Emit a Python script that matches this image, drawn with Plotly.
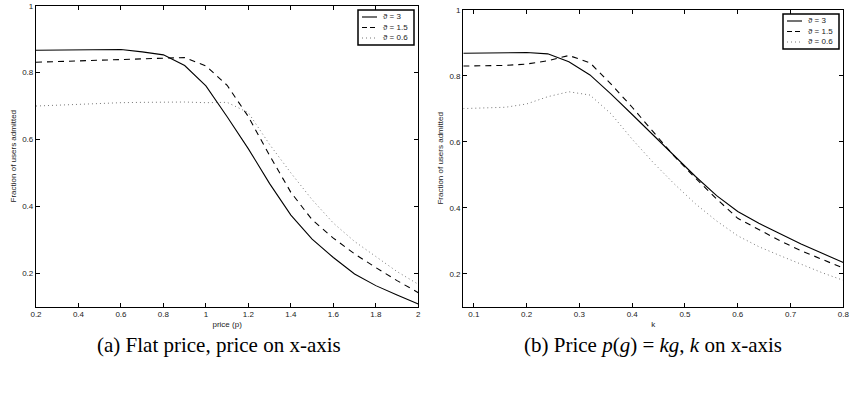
import plotly.graph_objects as go

# ---- data ----
price = [0.2, 0.3, 0.4, 0.5, 0.6, 0.7, 0.8, 0.9, 1.0, 1.1, 1.2, 1.3, 1.4, 1.5, 1.6, 1.7, 1.8, 1.9, 2.0]
flat_theta3 = [0.867, 0.868, 0.869, 0.869, 0.869, 0.862, 0.853, 0.821, 0.760, 0.668, 0.572, 0.468, 0.374, 0.302, 0.247, 0.198, 0.163, 0.135, 0.108]
flat_theta15 = [0.831, 0.833, 0.835, 0.837, 0.838, 0.840, 0.843, 0.845, 0.820, 0.762, 0.668, 0.552, 0.442, 0.360, 0.305, 0.258, 0.217, 0.178, 0.142]
flat_theta06 = [0.700, 0.703, 0.705, 0.707, 0.710, 0.711, 0.712, 0.712, 0.710, 0.711, 0.680, 0.585, 0.500, 0.420, 0.350, 0.295, 0.250, 0.205, 0.167]

k_vals = [0.08, 0.12, 0.16, 0.20, 0.24, 0.28, 0.32, 0.36, 0.40, 0.44, 0.48, 0.52, 0.56, 0.60, 0.64, 0.68, 0.72, 0.76, 0.80]
lin_theta3 = [0.869, 0.870, 0.871, 0.871, 0.867, 0.843, 0.803, 0.745, 0.683, 0.620, 0.557, 0.495, 0.437, 0.389, 0.353, 0.321, 0.290, 0.262, 0.234]
lin_theta15 = [0.830, 0.831, 0.832, 0.836, 0.846, 0.862, 0.840, 0.775, 0.705, 0.630, 0.556, 0.490, 0.427, 0.368, 0.333, 0.300, 0.270, 0.243, 0.217]
lin_theta06 = [0.701, 0.703, 0.705, 0.715, 0.737, 0.752, 0.742, 0.685, 0.608, 0.537, 0.472, 0.412, 0.360, 0.315, 0.282, 0.255, 0.228, 0.203, 0.180]

series_names = ["ϑ = 3", "ϑ = 1.5", "ϑ = 0.6"]
x_ticks_a = [0.2, 0.4, 0.6, 0.8, 1, 1.2, 1.4, 1.6, 1.8, 2]
x_ticks_b = [0.1, 0.2, 0.3, 0.4, 0.5, 0.6, 0.7, 0.8]
y_ticks = [0.2, 0.4, 0.6, 0.8, 1]

styles = [dict(color="black", width=1.1, dash="solid"),
          dict(color="black", width=1.1, dash="6px,5px"),
          dict(color="#777777", width=1.0, dash="1px,3px")]

fig = go.Figure()
for name, ys, st in zip(series_names, [flat_theta3, flat_theta15, flat_theta06], styles):
    fig.add_trace(go.Scatter(x=price, y=ys, mode="lines", name=name, line=st,
                             xaxis="x", yaxis="y", showlegend=False))
for name, ys, st in zip(series_names, [lin_theta3, lin_theta15, lin_theta06], styles):
    fig.add_trace(go.Scatter(x=k_vals, y=ys, mode="lines", name=name, line=st,
                             xaxis="x2", yaxis="y2", showlegend=False))

W, H = 850, 400
def px(x):
    return x / W
def py(y):
    return 1 - y / H

tickfont = dict(family="Liberation Sans, Arial, sans-serif", size=8, color="#222")
axis_common = dict(showline=True, linecolor="black", linewidth=1.3, mirror="ticks",
                   ticks="inside", ticklen=4, tickwidth=1, tickcolor="black",
                   showgrid=False, zeroline=False, tickfont=tickfont, automargin=False)

shapes = []
annotations = []
# legend boxes (pixel positions of box: left, top, right, bottom)
for (l, t, r, b) in [(358, 10, 414, 45), (783, 14, 839, 49)]:
    shapes.append(dict(type="rect", xref="paper", yref="paper",
                       x0=px(l), x1=px(r), y0=py(b), y1=py(t),
                       line=dict(color="black", width=1.5), fillcolor="white", layer="above"))
    for i, (name, st) in enumerate(zip(series_names, styles)):
        yy = t + 7 + i * 10.5
        shapes.append(dict(type="line", xref="paper", yref="paper",
                           x0=px(l + 4), x1=px(l + 19), y0=py(yy), y1=py(yy),
                           line=dict(color=st["color"], width=st["width"],
                                     dash="solid" if st["dash"] == "solid" else
                                     ("5px,3px" if i == 1 else "1px,3px")),
                           layer="above"))
        annotations.append(dict(text=name, x=px(l + 23), y=py(yy), xref="paper", yref="paper",
                                showarrow=False, xanchor="left", yanchor="middle",
                                font=dict(family="Liberation Sans, Arial, sans-serif", size=8, color="#222")))

annotations += [
    dict(text="(a) Flat price, price on x-axis", x=px(219), y=py(345),
         xref="paper", yref="paper", showarrow=False, xanchor="center", yanchor="middle",
         font=dict(family="Liberation Serif, Times New Roman, serif", size=21, color="black")),
    dict(text="(b) Price <i>p</i>(<i>g</i>) = <i>kg</i>, <i>k</i> on x-axis", x=px(653), y=py(345),
         xref="paper", yref="paper", showarrow=False, xanchor="center", yanchor="middle",
         font=dict(family="Liberation Serif, Times New Roman, serif", size=21, color="black")),
]

fig.update_layout(
    width=W, height=H,
    margin=dict(l=0, r=0, t=0, b=0, autoexpand=False),
    paper_bgcolor="white", plot_bgcolor="white",
    font=dict(family="Liberation Sans, Arial, sans-serif", size=8, color="#222"),
    showlegend=False,
    xaxis=dict(domain=[px(36), px(418.3)], range=[0.2, 2], tickvals=x_ticks_a,
               ticktext=[f"{v:g}" for v in x_ticks_a],
               title=dict(text="price (p)", font=dict(size=8), standoff=2),
               anchor="y", **axis_common),
    yaxis=dict(domain=[py(306.7), py(5.7)], range=[0.1, 1], tickvals=y_ticks,
               ticktext=[f"{v:g}" for v in y_ticks],
               title=dict(text="Fraction of users admitted", font=dict(size=8), standoff=4),
               anchor="x", **axis_common),
    xaxis2=dict(domain=[px(463.3), px(843.3)], range=[0.08, 0.8], tickvals=x_ticks_b,
                ticktext=[f"{v:g}" for v in x_ticks_b],
                title=dict(text="k", font=dict(size=8), standoff=2),
                anchor="y2", **axis_common),
    yaxis2=dict(domain=[py(306.7), py(10)], range=[0.1, 1], tickvals=y_ticks,
                ticktext=[f"{v:g}" for v in y_ticks],
                title=dict(text="Fraction of users admitted", font=dict(size=8), standoff=4),
                anchor="x2", **axis_common),
    shapes=shapes,
    annotations=annotations,
)

fig.write_html("out.html", config={"displayModeBar": False},
               post_script="document.body.style.margin='0px';document.body.style.overflow='hidden';")
